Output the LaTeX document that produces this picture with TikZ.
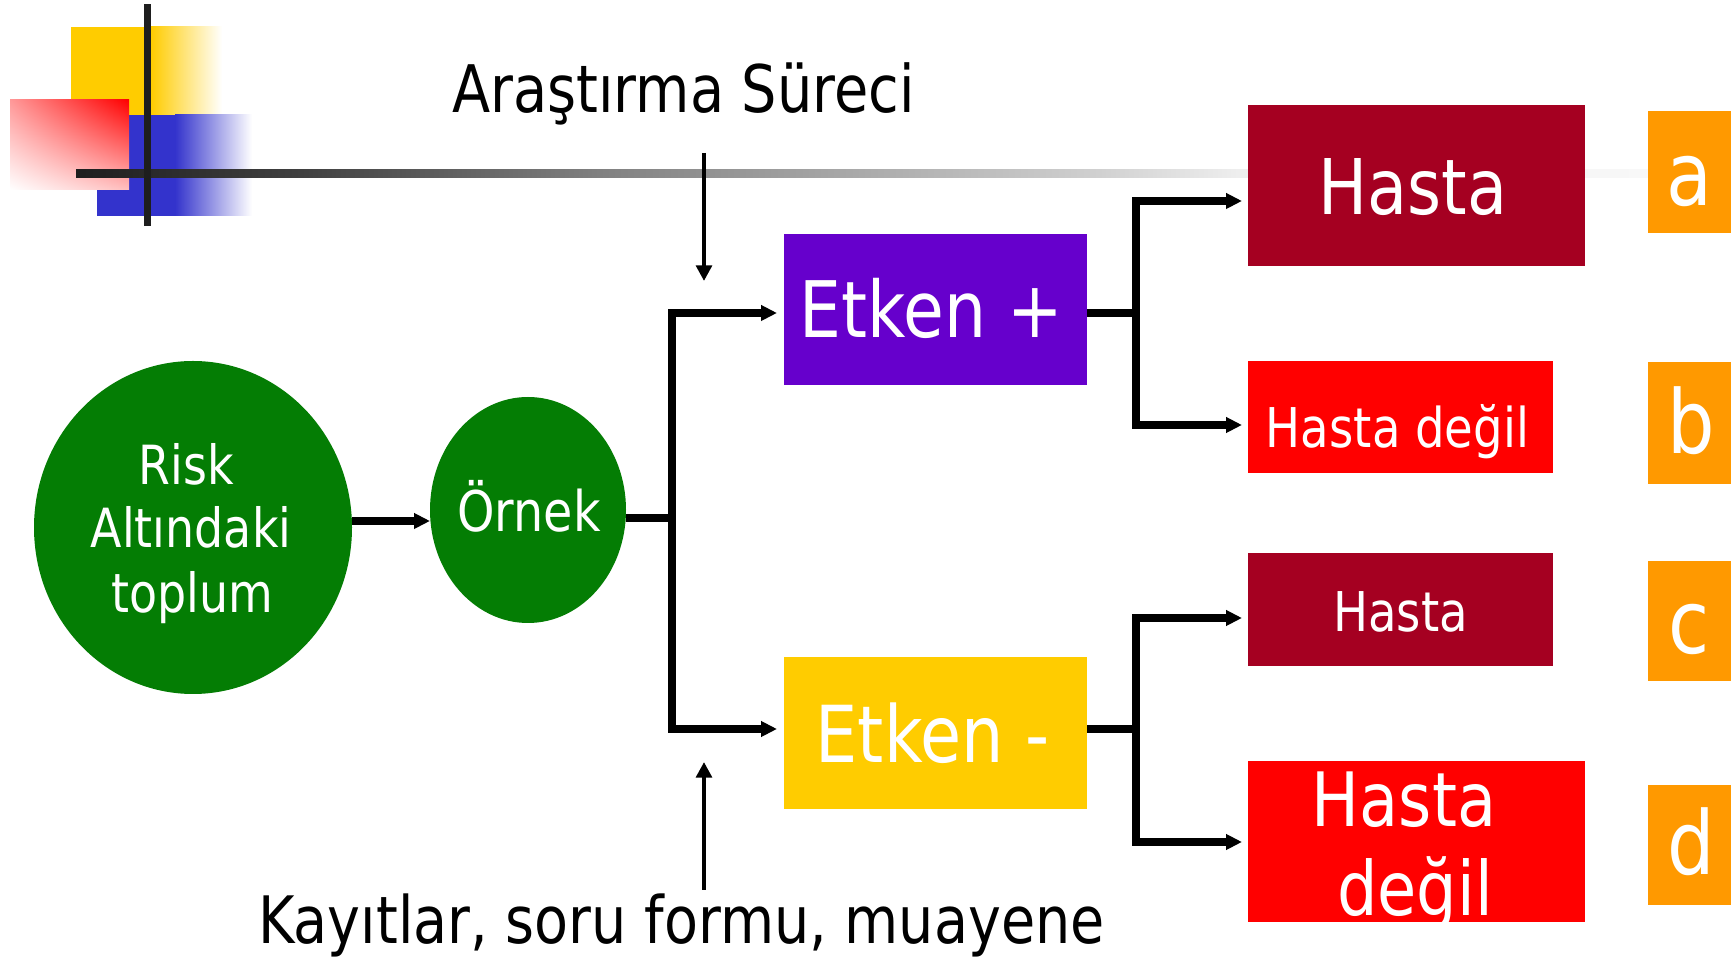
\documentclass[tikz,border=0pt]{standalone}
\usepackage{fontspec}
\setmainfont{DejaVu Sans}[FakeStretch=0.85]
\usetikzlibrary{arrows.meta,shapes.geometric,shadings}

\definecolor{leaf}{RGB}{4,125,4}
\definecolor{grape}{RGB}{102,0,204}
\definecolor{amber}{RGB}{255,204,0}
\definecolor{wine}{RGB}{165,0,33}
\definecolor{signal}{RGB}{255,0,0}
\definecolor{tangerine}{RGB}{255,153,0}
\definecolor{royal}{RGB}{51,51,204}
\definecolor{ink}{RGB}{30,30,30}
\definecolor{ruleA}{RGB}{64,64,64}
\definecolor{ruleB}{RGB}{128,128,128}
\definecolor{ruleC}{RGB}{208,208,208}
\definecolor{ruleD}{RGB}{238,238,238}
\definecolor{ruleE}{RGB}{250,250,250}

% fading header rule: dark on the left, almost white on the right
\pgfdeclarehorizontalshading{rulefade}{100bp}{%
  color(0bp)=(ink); color(25bp)=(ink); color(31.8bp)=(ruleA);
  color(40.8bp)=(ruleB); color(55.9bp)=(ruleC); color(60.1bp)=(ruleD);
  color(75bp)=(ruleE); color(100bp)=(ruleE)}

\tikzset{
  box/.style={rectangle, inner sep=0pt, outer sep=0pt},
  blob/.style={ellipse, fill=leaf, inner sep=0pt, outer sep=0pt},
  lbl/.style={inner sep=0pt, outer sep=0pt, anchor=base, text=white},
  heading/.style={inner sep=0pt, outer sep=0pt, anchor=base, text=black},
  bus/.style={line width=3.7pt, line join=miter, line cap=butt},
  bigtip/.tip={Triangle[length=8pt, width=7.5pt]},
  smalltip/.tip={Triangle[length=7.8pt, width=7.8pt]},
  pointer/.style={line width=2pt, -smalltip},
}

\newcommand{\fs}[1]{\fontsize{#1}{#1}\selectfont}

\begin{document}
\begin{tikzpicture}[x=0.5pt, y=-0.5pt]
\useasboundingbox (0,0) rectangle (1731,961);
\fill[white] (0,0) rectangle (1731,961);

% corner ornament
\fill[amber] (71,27) rectangle (152,116);
\shade[left color=amber, right color=white] (151,27) rectangle (222,116);
\fill[royal] (97,115) rectangle (176,216);
\shade[left color=royal, right color=white] (175,115) rectangle (252,216);
\shade[upper right=signal, lower left=white, upper left=signal!40, lower right=signal!25]
  (10,100) rectangle (129,190);
\shade[shading=rulefade] (76,170) rectangle (1731,178);
\fill[ink] (144,4) rectangle (151,226);

% headings
\node[heading, font=\fs{32.8}] (title) at (683.5,113) {Araştırma Süreci};
\node[heading, font=\fs{32.7}] (sources) at (681.5,944) {Kayıtlar, soru formu, muayene};

% population and sample
\node[blob, minimum width=159pt, minimum height=166.5pt] (risk) at (193,527.5) {};
\node[lbl, font=\fs{27}] (riskA) at (186,485) {Risk};
\node[lbl, font=\fs{27}] (riskB) at (191,548) {Altındaki};
\node[lbl, font=\fs{27}] (riskC) at (192,613) {toplum};
\node[blob, minimum width=98pt, minimum height=113pt] (orn) at (528,510) {};
\node[lbl, font=\fs{28}] (ornT) at (529,532) {Örnek};

% exposure groups
\node[box, fill=grape, minimum width=151.5pt, minimum height=75.5pt] (ep) at (935.5,309.5) {};
\node[lbl, font=\fs{39}] (epT) at (931.5,338) {Etken +};
\node[box, fill=amber, minimum width=151.5pt, minimum height=76pt] (em) at (935.5,733) {};
\node[lbl, font=\fs{39.3}] (emT) at (932.5,763) {Etken -};

% outcomes
\node[box, fill=wine, minimum width=168.5pt, minimum height=80.5pt] (ha) at (1416.5,185.5) {};
\node[lbl, font=\fs{38.4}] (haT) at (1413,215) {Hasta};
\node[box, fill=signal, minimum width=152.5pt, minimum height=56pt] (hb) at (1400.5,417) {};
\node[lbl, font=\fs{27.4}] (hbT) at (1397.5,448) {Hasta değil};
\node[box, fill=wine, minimum width=152.5pt, minimum height=56.5pt] (hc) at (1400.5,609.5) {};
\node[lbl, font=\fs{27.4}] (hcT) at (1400.5,632) {Hasta};
\node[box, fill=signal, minimum width=168.5pt, minimum height=80.5pt] (hd) at (1416.5,841.5) {};
\node[lbl, font=\fs{37.5}] (hdT1) at (1404,827) {Hasta};
\node[lbl, font=\fs{37.5}] (hdT2) at (1415,916) {değil};

% cell letters
\node[box, fill=tangerine, minimum width=41.5pt, minimum height=61pt] (la) at (1689.5,172) {};
\node[lbl, font=\fs{44}] (laT) at (1689.5,206) {a};
\node[box, fill=tangerine, minimum width=41.5pt, minimum height=61pt] (lb) at (1689.5,423) {};
\node[lbl, font=\fs{44}] (lbT) at (1691,454) {b};
\node[box, fill=tangerine, minimum width=41.5pt, minimum height=60pt] (lc) at (1689.5,621) {};
\node[lbl, font=\fs{44}] (lcT) at (1689.5,654) {c};
\node[box, fill=tangerine, minimum width=41.5pt, minimum height=60pt] (ld) at (1689.5,845) {};
\node[lbl, font=\fs{44}] (ldT) at (1691,875) {d};

% junction points
\coordinate (rs) at (0,521);
\coordinate (fork) at (672,518);
\coordinate (forkT) at (672,313);
\coordinate (forkB) at (672,729);
\coordinate (pm) at (1136,313);
\coordinate (pT) at (1136,201);
\coordinate (pB) at (1136,425);
\coordinate (mm) at (1136,729);
\coordinate (mT) at (1136,618);
\coordinate (mB) at (1136,842);
\coordinate (qA) at (704,153);
\coordinate (qB) at (704,281);
\coordinate (kA) at (704,890);
\coordinate (kB) at (704,762);

% connectors
\draw[bus, -bigtip] (risk.east |- rs) -- (orn.west |- rs);
\draw[bus] (orn.east |- fork) -- (fork);
\draw[bus, bigtip-bigtip, shorten <=3.5pt, shorten >=3.5pt]
  (ep.west |- forkT) -- (forkT) -- (forkB) -- (em.west |- forkB);
\draw[bus] (ep.east |- pm) -- (pm);
\draw[bus, bigtip-bigtip, shorten <=3pt, shorten >=3pt]
  (ha.west |- pT) -- (pT) -- (pB) -- (hb.west |- pB);
\draw[bus] (em.east |- mm) -- (mm);
\draw[bus, bigtip-bigtip, shorten <=3pt, shorten >=3pt]
  (hc.west |- mT) -- (mT) -- (mB) -- (hd.west |- mB);
\draw[pointer] (qA) -- (qB);
\draw[pointer] (kA) -- (kB);
\end{tikzpicture}
\end{document}
